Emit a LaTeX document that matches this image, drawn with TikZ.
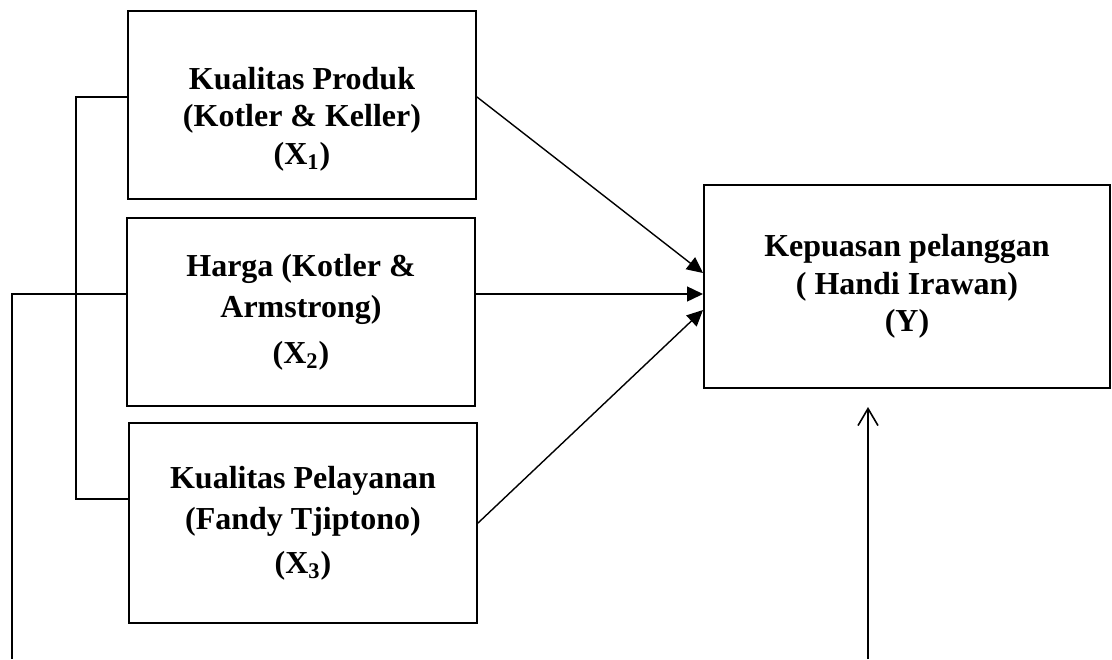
\documentclass[tikz,border=0pt]{standalone}
\usepackage{fontspec}
\setmainfont{Liberation Serif}
\usetikzlibrary{arrows.meta,calc}

\tikzset{
  box/.style={draw,line width=1pt,minimum width=174pt,minimum height=94pt,inner sep=0pt},
  txt/.style={align=center,font=\fontsize{16}{18.75}\selectfont\bfseries},
  link/.style={line width=0.7pt},
  fill arrow/.style={link,-{Triangle[length=8pt,width=7.5pt]}},
  open arrow/.style={link,-{Straight Barb[length=8.5pt,width=10pt,line width=0.8pt]}}
}

\begin{document}
\begin{tikzpicture}[x=0.5pt,y=-0.5pt]
\useasboundingbox (0,0) rectangle (1112,659);
\node[box] (x1) at (302,105) {};
\node[txt] (x1t) at (302,119) {Kualitas Produk\\(Kotler \& Keller)\\(X\textsubscript{1})};
\node[box,txt] (x2) at (301,312) {Harga (Kotler \&\\[2pt] Armstrong)\\[4pt](X\textsubscript{2})};
\node[box,txt,minimum height=100pt] (x3) at (303,523) {Kualitas Pelayanan\\[2pt](Fandy Tjiptono)\\[3pt](X\textsubscript{3})};
\node[box,txt,minimum width=203pt,minimum height=101.5pt] (y) at (907,286.5) {Kepuasan pelanggan\\( Handi Irawan)\\(Y)};
\coordinate (lo) at (12,659);
\coordinate (up) at (868,659);
\coordinate (tip) at (868,407);
\draw[fill arrow] ([yshift=4pt]x1.east) -- ([yshift=6.75pt]y.west);
\draw[fill arrow] ([yshift=9pt]x2.east) -- ([yshift=-3.75pt]y.west);
\draw[fill arrow] (x3.east) -- ([yshift=-11.75pt]y.west);
\draw[link] ([yshift=4pt]x1.west) -- ++(-51,0) |- ([yshift=12pt]x3.west);
\draw[link] ([yshift=9pt]x2.west) -| (lo);
\draw[open arrow] (up) -- (tip);
\end{tikzpicture}
\end{document}
